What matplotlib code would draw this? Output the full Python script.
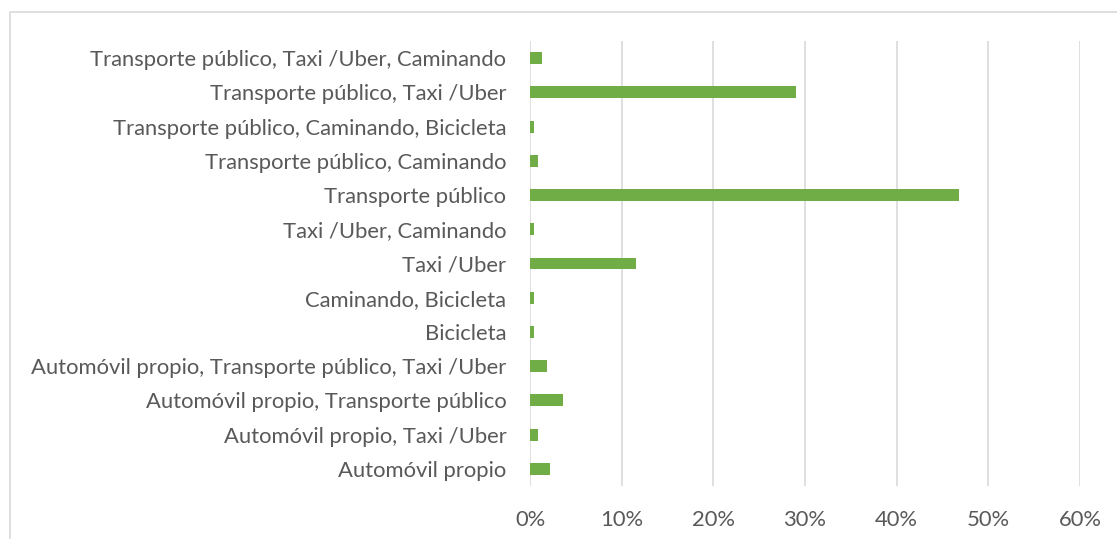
import matplotlib.pyplot as plt
from matplotlib.patches import Rectangle
from matplotlib.ticker import FuncFormatter

# Modos de transporte (de abajo hacia arriba) y su porcentaje
modos = [
    "Automóvil propio",
    "Automóvil propio, Taxi /Uber",
    "Automóvil propio, Transporte público",
    "Automóvil propio, Transporte público, Taxi /Uber",
    "Bicicleta",
    "Caminando, Bicicleta",
    "Taxi /Uber",
    "Taxi /Uber, Caminando",
    "Transporte público",
    "Transporte público, Caminando",
    "Transporte público, Caminando, Bicicleta",
    "Transporte público, Taxi /Uber",
    "Transporte público, Taxi /Uber, Caminando",
]
porcentajes = [2.2, 0.9, 3.6, 1.8, 0.4, 0.4, 11.6, 0.4, 46.8, 0.9, 0.4, 29.0, 1.3]
ticks_x = [0, 10, 20, 30, 40, 50, 60]

W, H = 1117, 539
fig = plt.figure(figsize=(W / 100, H / 100), dpi=100)
fig.patch.set_facecolor("white")

# marco del gráfico
fig.patches.append(Rectangle((10 / W, -0.1), 1.2, (H - 12) / H + 0.1,
                             transform=fig.transFigure, fill=False,
                             edgecolor="#D9D9D9", linewidth=1.2))

ax = fig.add_axes([530 / W, (H - 486) / H, 550 / W, 445 / H])
y = range(len(modos))
ax.barh(y, porcentajes, height=0.35, color="#70AD47", zorder=3)

ax.set_xlim(0, 60)
ax.set_ylim(-0.5, len(modos) - 0.5)
ax.set_xticks(ticks_x)
ax.xaxis.set_major_formatter(FuncFormatter(lambda v, p: f"{v:.0f}%"))
ax.set_yticks(list(y))
ax.set_yticklabels(modos)
ax.grid(axis="x", color="#D9D9D9", linewidth=1.2, zorder=0)
for s in ax.spines.values():
    s.set_visible(False)
ax.tick_params(axis="y", length=0, pad=17, labelsize=15.8, labelcolor="#595959")
ax.tick_params(axis="x", length=0, pad=17, labelsize=15.8, labelcolor="#595959")
for lab in ax.get_xticklabels() + ax.get_yticklabels():
    lab.set_fontfamily("Lato")

fig.savefig("out.png", dpi=100)
